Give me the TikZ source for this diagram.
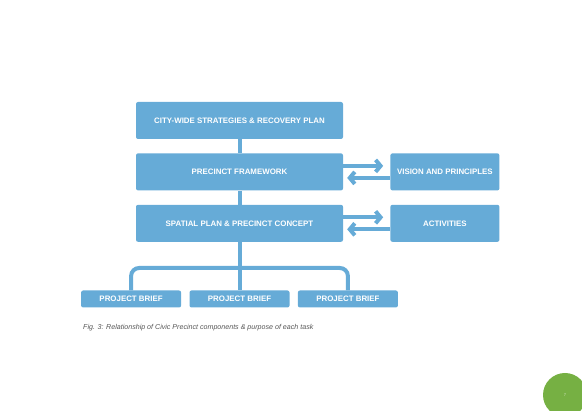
\documentclass[tikz,border=0pt]{standalone}
\usepackage{fontspec}
\setmainfont{Liberation Sans}
\usetikzlibrary{arrows.meta,positioning}
\definecolor{pcblue}{HTML}{66ABD7}
\definecolor{pcgreen}{HTML}{76B043}
\definecolor{pcgrey}{HTML}{555555}

\begin{document}
\begin{tikzpicture}[
    x=1pt, y=-1pt,
    node distance=14pt,
    every node/.style={inner sep=0pt, text centered},
    stage/.style={fill=pcblue, rounded corners=2pt, minimum width=207pt, minimum height=37pt, text=white, font=\fontsize{7.9}{9}\selectfont\bfseries},
    aside/.style={stage, minimum width=109pt},
    brief/.style={stage, minimum width=100pt, minimum height=17pt},
    link/.style={draw=pcblue, line width=4pt},
    flow/.style={link, -{Straight Barb[length=5pt,width=12pt]}}
  ]
    \useasboundingbox (0,0) rectangle (582,411);
    \clip (0,0) rectangle (582,411);

    \node[stage] (city) at (239.5,120.5) {CITY-WIDE STRATEGIES \& RECOVERY PLAN};
    \node[stage, below=of city] (frame) {PRECINCT FRAMEWORK};
    \node[stage, below=of frame] (spatial) {SPATIAL PLAN \& PRECINCT CONCEPT};
    \node[aside, right=47pt of frame] (vision) {VISION AND PRINCIPLES};
    \node[aside, right=47pt of spatial] (act) {ACTIVITIES};

    \draw[link] (city) -- (frame);
    \draw[link] (frame) -- (spatial);

    % arrows to and from the side boxes
    \draw[flow, shorten >=7pt] ([yshift=6pt]frame.east) -- ([yshift=6pt]vision.west);
    \draw[flow, shorten >=4pt] ([yshift=-6pt]vision.west) -- ([yshift=-6pt]frame.east);
    \draw[flow, shorten >=7pt] ([yshift=6pt]spatial.east) -- ([yshift=6pt]act.west);
    \draw[flow, shorten >=4pt] ([yshift=-6pt]act.west) -- ([yshift=-6pt]spatial.east);

    \node[brief] (brief2) at (239.5,299) {PROJECT BRIEF};
    \node[brief, left=8pt of brief2] (brief1) {PROJECT BRIEF};
    \node[brief, right=8pt of brief2] (brief3) {PROJECT BRIEF};

    \coordinate (fork) at (239.5,268);
    \draw[link] (spatial) -- (brief2);
    \draw[link, rounded corners=8pt] (brief1.north) |- (fork) -| (brief3.north);

    \node[anchor=west, text=pcgrey, font=\fontsize{7.1}{8}\selectfont\itshape] (caption) at (83,328)
      {Fig. 3: Relationship of Civic Precinct components \& purpose of each task};

    \fill[pcgreen] (565,395) circle (22);
    \node[text=white!70!pcgreen, font=\fontsize{4}{5}\selectfont] (page) at (565,395) {7};
  \end{tikzpicture}
\end{document}
